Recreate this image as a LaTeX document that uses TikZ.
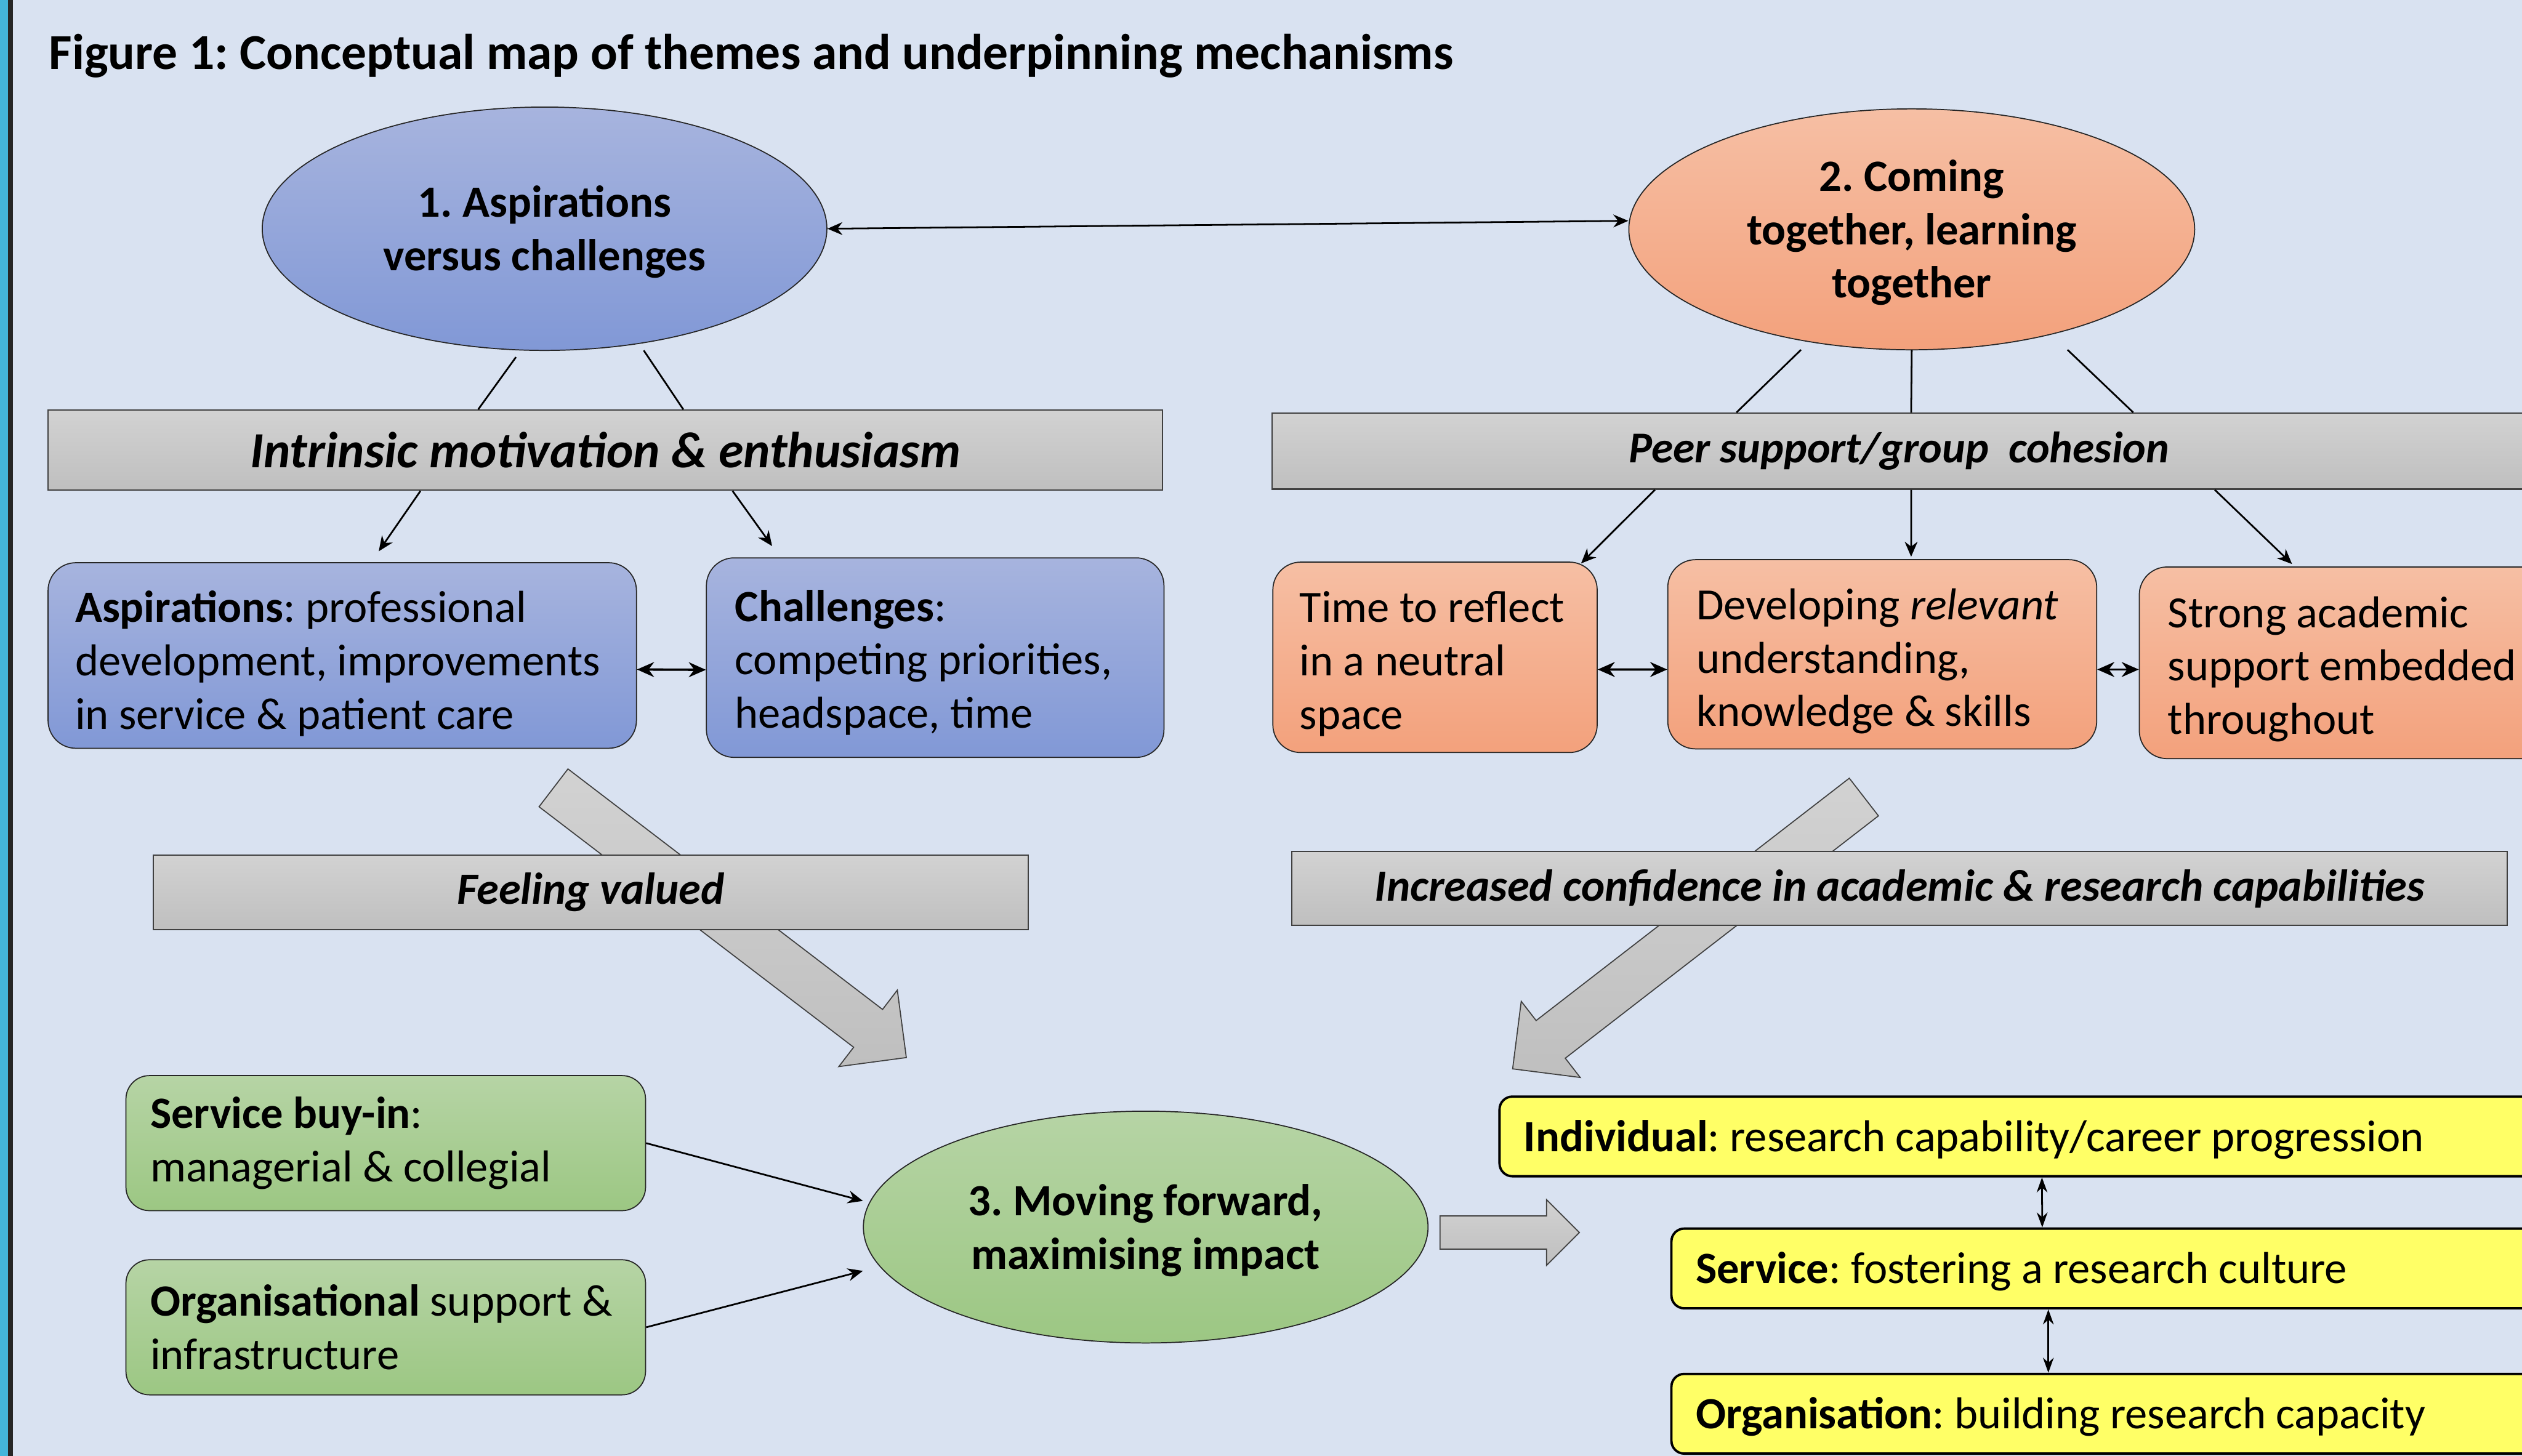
\documentclass[tikz,border=0pt]{standalone}
\usepackage{fontspec}
\setmainfont{Carlito}
\usepackage{tikz}
\usetikzlibrary{positioning,arrows.meta,shapes.geometric,shapes.arrows,calc}
\frenchspacing
\definecolor{pagebg}{RGB}{217,226,241}
\definecolor{edgecyan}{RGB}{68,181,218}
\definecolor{bluetop}{RGB}{167,180,222}
\definecolor{bluebot}{RGB}{129,152,214}
\definecolor{salmontop}{RGB}{246,191,164}
\definecolor{salmonbot}{RGB}{243,161,124}
\definecolor{greentop}{RGB}{182,212,165}
\definecolor{greenbot}{RGB}{156,199,131}
\definecolor{greytop}{RGB}{210,210,210}
\definecolor{greybot}{RGB}{191,191,191}
\definecolor{notepad}{RGB}{255,255,102}
\colorlet{linedraw}{black!85}
\colorlet{bardraw}{black!75}

\begin{document}
\begin{tikzpicture}[every node/.style={font=\fontsize{20.9}{25}\selectfont},
    theme/.style={ellipse,draw=linedraw,line width=.5pt,align=center,inner sep=0pt,text width=5.9cm,text height=.62cm,font=\fontsize{20.9}{25}\selectfont\bfseries,
      execute at begin node={\spaceskip=\fontdimen2\font\xspaceskip=0pt}},
    box/.style={draw=linedraw,line width=.5pt,rounded corners=13pt,align=left,inner xsep=.47cm,inner ysep=0pt,
      execute at begin node={\spaceskip=0pt\xspaceskip=0pt}},
    banner/.style={draw=bardraw,line width=.6pt,top color=greytop,bottom color=greybot,font=\fontsize{20.9}{25}\selectfont\bfseries\itshape},
    outcome/.style={draw=black,line width=1.1pt,fill=notepad,rounded corners=6pt,align=left,inner xsep=.4cm,text height=.62cm,minimum height=1.31cm,
      execute at begin node={\spaceskip=0pt\xspaceskip=0pt}},
    bigarrow/.style={single arrow,draw=bardraw,line width=.5pt,top color=greytop,bottom color=greybot,inner xsep=0pt,minimum width=0pt,anchor=tail},
    link/.style={-{Stealth[length=7pt,width=6pt]},line width=.8pt},
    twoway/.style={{Stealth[length=8pt,width=7pt]}-{Stealth[length=8pt,width=7pt]},line width=1.1pt},
    spoke/.style={line width=.8pt}]
    \useasboundingbox (0,0) rectangle (41.45,23.93);
    \clip (0,0) rectangle (41.45,23.93);
    \fill[pagebg] (0,0) rectangle (41.45,23.93);
    \fill[edgecyan] (0,0) rectangle (.13,23.93);
    \fill[linedraw] (.13,0) rectangle (.21,23.93);

    \node[anchor=base west,inner sep=0pt,font=\fontsize{23.5}{28}\selectfont\bfseries] (title) at (.8,22.79) {Figure 1: Conceptual map of themes and underpinning mechanisms};

    % themes 1 and 2
    \node[theme,top color=bluetop,bottom color=bluebot,minimum width=9.28cm,minimum height=4cm] (aspire) at (8.95,20.17) {1. Aspirations\\versus challenges};
    \node[theme,top color=salmontop,bottom color=salmonbot,minimum width=9.3cm,minimum height=3.96cm] (together) at (31.42,20.16) {2. Coming\\together, learning\\together};
    \draw[{Stealth[length=7pt,width=6pt]}-{Stealth[length=7pt,width=6pt]},line width=.8pt] (aspire.east) -- ([yshift=.14cm]together.west);

    \node[banner,minimum width=18.32cm,minimum height=1.32cm,font=\fontsize{23.7}{28}\selectfont\bfseries\itshape] (motive) at (9.95,16.53) {Intrinsic motivation \& enthusiasm};
    \node[banner,minimum width=20.6cm,minimum height=1.25cm,font=\fontsize{20.6}{25}\selectfont\bfseries\itshape] (peer) at (31.21,16.515) {Peer support/group~ cohesion};
    \draw[spoke] ([shift={(-.47,-2.11)}]aspire.center) -- ([xshift=-2.09cm]motive.north);
    \draw[spoke] ([shift={(1.63,-2)}]aspire.center) -- ([xshift=1.28cm]motive.north);
    \draw[spoke] ([shift={(-1.82,-1.98)}]together.center) -- ([xshift=-2.67cm]peer.north);
    \draw[spoke] ([shift={(0,-1.98)}]together.center) -- ([xshift=.2cm]peer.north);
    \draw[spoke] ([shift={(2.56,-1.98)}]together.center) -- ([xshift=3.85cm]peer.north);

    % aspirations versus challenges
    \node[box,top color=bluetop,bottom color=bluebot,text width=8.78cm,inner xsep=.445cm,text height=.78cm,minimum height=3.05cm] (aspbox) at (5.625,13.155) {\textbf{Aspirations}: professional\\development, improvements\\in service \& patient care};
    \node[box,top color=bluetop,bottom color=bluebot,text width=6.58cm,text height=.68cm,minimum height=3.28cm] (chalbox) at (15.37,13.12) {\textbf{Challenges}:\\competing priorities,\\headspace, time};
    \draw[link] ([xshift=-3.04cm]motive.south) -- ([shift={(.6,.18)}]aspbox.north);
    \draw[link] ([xshift=2.09cm]motive.south) -- ([shift={(-2.68,.185)}]chalbox.north);
    \draw[twoway] ([yshift=-.23cm]aspbox.east) -- ([yshift=-.2cm]chalbox.west);

    % coming together
    \node[box,top color=salmontop,bottom color=salmonbot,text width=4.45cm,inner xsep=.44cm,text height=.72cm,minimum height=3.13cm] (reflect) at (23.585,13.125) {Time to reflect\\in a neutral\\space};
    \node[box,top color=salmontop,bottom color=salmonbot,text width=6.11cm,text height=.74cm,minimum height=3.11cm] (skills) at (30.935,13.175) {Developing \textit{relevant}\\understanding,\\knowledge \& skills};
    \node[box,top color=salmontop,bottom color=salmonbot,text width=5.9cm,text height=.72cm,minimum height=3.15cm] (support) at (38.58,13.035) {Strong academic\\support embedded\\throughout};
    \draw[link] ([xshift=-4.01cm]peer.south) -- ([shift={(2.4,-.03)}]reflect.north);
    \draw[link] ([xshift=.2cm]peer.south) -- ([shift={(.475,.04)}]skills.north);
    \draw[link] ([xshift=5.19cm]peer.south) -- ([shift={(-.91,.04)}]support.north);
    \draw[twoway] ([yshift=-.2cm]reflect.east) -- ([yshift=-.25cm]skills.west);
    \draw[twoway] ([yshift=-.25cm]skills.east) -- ([yshift=-.11cm]support.west);

    % flows down to theme 3
    \node[bigarrow,rotate=-37.4,minimum height=7.3cm,inner ysep=.3825cm,single arrow head extend=.4cm] (valuedflow) at (9.09,10.985) {};
    \node[bigarrow,rotate=-142.26,minimum height=7.3cm,inner ysep=.3825cm,single arrow head extend=.4cm] (confflow) at (30.64,10.834) {};
    \node[banner,minimum width=14.38cm,minimum height=1.23cm] (valued) at (9.71,9.26) {Feeling valued};
    \node[banner,minimum width=19.98cm,minimum height=1.21cm] (confidence) at (31.22,9.325) {Increased confidence in academic \& research capabilities};

    % theme 3
    \node[box,top color=greentop,bottom color=greenbot,rounded corners=11pt,inner xsep=.4cm,text width=7.74cm,minimum height=2.22cm] (buyin) at (6.34,5.14) {\textbf{Service buy-in}:\\managerial \& collegial};
    \node[box,top color=greentop,bottom color=greenbot,rounded corners=11pt,inner xsep=.4cm,text width=7.74cm,minimum height=2.22cm,below=.79cm of buyin] (orgsupport) {\textbf{Organisational} support \&\\infrastructure};
    \node[theme,top color=greentop,bottom color=greenbot,minimum width=9.28cm,minimum height=3.81cm] (forward) at (18.83,3.76) {3. Moving forward,\\maximising impact};
    \draw[link] (buyin.east) -- ([yshift=.43cm]forward.west);
    \draw[link] (orgsupport.east) -- ([yshift=-.72cm]forward.west);
    \node[bigarrow,minimum height=2.29cm,inner ysep=.265cm,single arrow head extend=.265cm] (push) at ([shift={(.18,-.09)}]forward.east) {};

    % impact levels
    \node[outcome,text width=16.55cm] (individual) at (33.32,5.25) {\textbf{Individual}: research capability/career progression};
    \node[outcome,text width=13.73cm] (service) at (34.735,3.08) {\textbf{Service}: fostering a research culture};
    \node[outcome,text width=13.73cm,below=1.04cm of service] (organisation) {\textbf{Organisation}: building research capacity};
    \draw[{Stealth[length=7pt,width=5pt]}-{Stealth[length=7pt,width=5pt]},line width=.8pt] ([xshift=.24cm]individual.south) -- ([xshift=-1.17cm]service.north);
    \draw[{Stealth[length=7pt,width=5pt]}-{Stealth[length=7pt,width=5pt]},line width=.8pt] ([xshift=-1.07cm]service.south) -- ([xshift=-1.07cm]organisation.north);
  \end{tikzpicture}
\end{document}
